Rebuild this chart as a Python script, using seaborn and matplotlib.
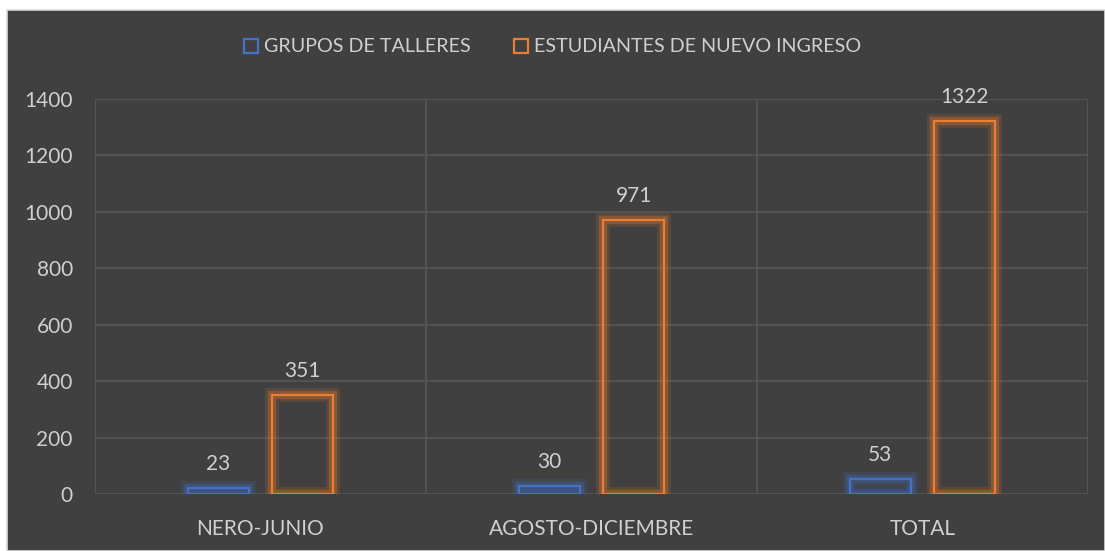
import pandas as pd
import seaborn as sns
from matplotlib import pyplot as plt
from matplotlib import patheffects as pe
from matplotlib.patches import Patch, Rectangle

# Chart data
categories = ['NERO-JUNIO', 'AGOSTO-DICIEMBRE', 'TOTAL']
grupos = [23, 30, 53]
estudiantes = [351, 971, 1322]
series_names = ['GRUPOS DE TALLERES', 'ESTUDIANTES DE NUEVO INGRESO']
y_ticks = [0, 200, 400, 600, 800, 1000, 1200, 1400]

colors = ['#4472C4', '#ED7D31']
bg = '#404040'
txt = '#CFCFCF'
grid_c = '#565656'

df = pd.DataFrame({
    'periodo': categories * 2,
    'serie': [series_names[0]] * 3 + [series_names[1]] * 3,
    'valor': grupos + estudiantes,
})

sns.set_style('white')
plt.rcParams['font.family'] = ['Lato', 'DejaVu Sans']

fig = plt.figure(figsize=(11.05, 5.51), dpi=100, facecolor='white')
# dark chart area with a light border, like the exported Excel chart
fig.patches.append(Rectangle((7 / 1105, 0), 1 - 7 / 1105, 1 - 10 / 551,
                             transform=fig.transFigure, facecolor=bg,
                             edgecolor='#D9D9D9', linewidth=1.2, zorder=-10))

ax = fig.add_axes([95 / 1105, 57 / 551, (1088 - 95) / 1105, (494 - 99) / 551])
ax.set_facecolor(bg)

sns.barplot(data=df, x='periodo', y='valor', hue='serie', order=categories,
            hue_order=series_names, palette=colors, width=0.51, gap=0.275,
            legend=False, ax=ax, zorder=3)

# hollow bars with a soft glow
for cont, col in zip(ax.containers, colors):
    for bar in cont:
        bar.set_facecolor('none')
        bar.set_edgecolor(col)
        bar.set_linewidth(1.6)
        bar.set_path_effects([
            pe.Stroke(linewidth=10, foreground=col, alpha=0.15),
            pe.Stroke(linewidth=6, foreground=col, alpha=0.3),
            pe.Normal(),
        ])
    ax.bar_label(cont, padding=10, color=txt, fontsize=15)

ax.set_ylim(0, 1400)
ax.set_xlim(-0.5, 2.5)
ax.set_yticks(y_ticks)
ax.set_xticks([-0.5, 0.5, 1.5, 2.5], minor=True)
ax.grid(axis='y', which='major', color=grid_c, linewidth=1.2, zorder=0)
ax.grid(axis='x', which='minor', color=grid_c, linewidth=1.2, zorder=0)
ax.set_axisbelow(True)
for s in ax.spines.values():
    s.set_visible(False)
ax.tick_params(axis='both', which='both', length=0, colors=txt, labelsize=15)
ax.tick_params(axis='x', pad=18)
ax.tick_params(axis='y', pad=16)
ax.set_xlabel('')
ax.set_ylabel('')

handles = [Patch(facecolor='none', edgecolor=c, linewidth=1.6) for c in colors]
fig.legend(handles, series_names, loc='center', bbox_to_anchor=(0.5, 1 - 47 / 551),
           ncol=2, frameon=False, fontsize=14.2, labelcolor=txt,
           handlelength=0.7, handleheight=0.7, handletextpad=0.3, columnspacing=2.2)

fig.savefig('out.png', dpi=100, facecolor='white')
